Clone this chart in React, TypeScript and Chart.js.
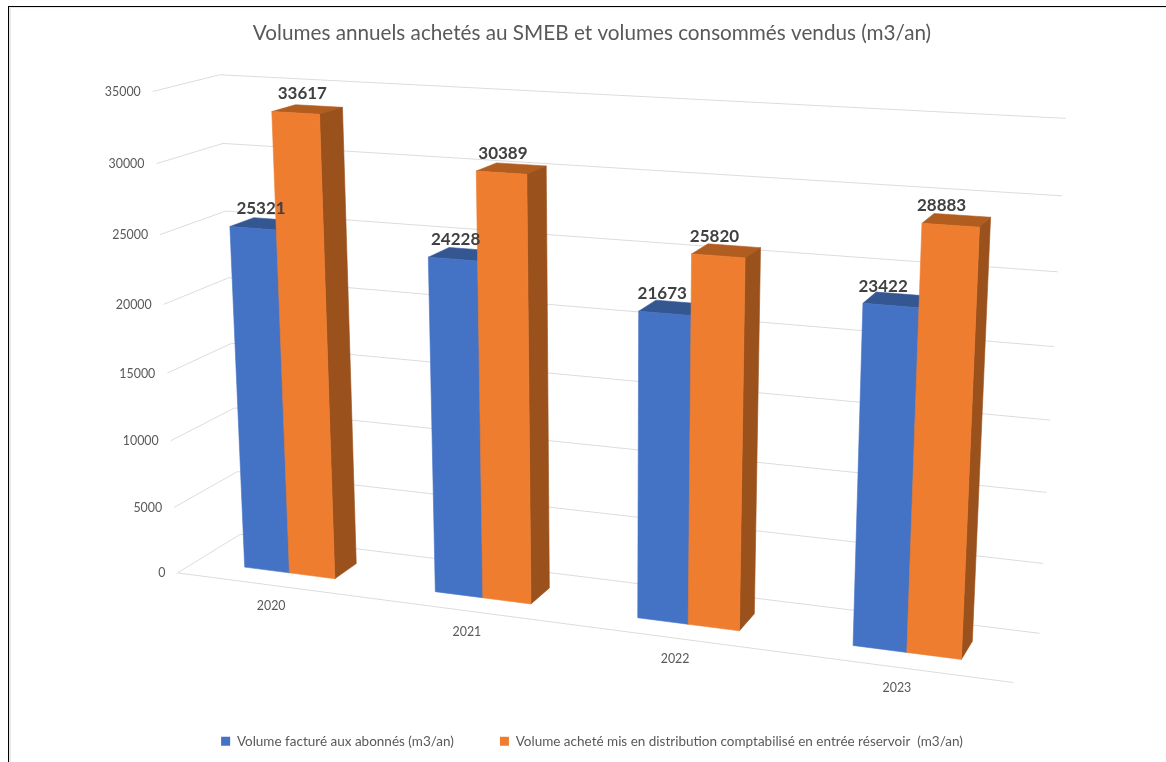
import React, { useEffect, useRef } from "react";
import { Chart, registerables } from "chart.js";
Chart.register(...registerables);

const categories = ["2020", "2021", "2022", "2023"];
const billedVolumes = [25321, 24228, 21673, 23422];
const purchasedVolumes = [33617, 30389, 25820, 28883];
const seriesNames = [
  "Volume facturé aux abonnés (m3/an)",
  "Volume acheté mis en distribution comptabilisé en entrée réservoir  (m3/an)",
];
const titleText = "Volumes annuels achetés au SMEB et volumes consommés vendus (m3/an)";
const valueMax = 35000;
const valueStep = 5000;

const font = "Lato";
const frontColors = ["#4472C4", "#EE7D30"];
const topColors = ["#345792", "#B25D20"];
const sideColors = ["#2C4C85", "#9A511C"];
const gridColor = "#DCDCDC";
const tickColor = "#595959";
const labelColor = "#404040";

// Camera matrix: maps (u along the years, v up the values, w into the depth) to canvas pixels.
const camX = [716.90908, -33.0161, 74.42674, 177.53659];
const camY = [29.55415, -486.34682, -12.15051, 572.90224];
const camW = [-0.11731, -0.05396, 0.04938, 1];
const barDepthStart = 0.3;
const barDepthEnd = 0.675;

function project(u: number, v: number, w: number): [number, number] {
  const d = camW[0] * u + camW[1] * v + camW[2] * w + camW[3];
  return [
    (camX[0] * u + camX[1] * v + camX[2] * w + camX[3]) / d,
    (camY[0] * u + camY[1] * v + camY[2] * w + camY[3]) / d,
  ];
}

function polygon(ctx: CanvasRenderingContext2D, pts: [number, number][], color: string) {
  ctx.beginPath();
  pts.forEach(([x, y], i) => (i ? ctx.lineTo(x, y) : ctx.moveTo(x, y)));
  ctx.closePath();
  ctx.fillStyle = color;
  ctx.strokeStyle = color;
  ctx.lineWidth = 0.6;
  ctx.fill();
  ctx.stroke();
}

// Draws the whole scene in perspective, taking positions from the chart's own scales and bars.
const perspectiveScene = {
  id: "perspectiveScene",
  beforeDatasetsDraw(chart: any) {
    const { ctx, chartArea: area, scales } = chart;
    const toU = (px: number) => (px - area.left) / (area.right - area.left);
    const toV = (py: number) => (area.bottom - py) / (area.bottom - area.top);
    const d0 = barDepthStart;
    const d1 = barDepthEnd;

    ctx.save();
    ctx.strokeStyle = gridColor;
    ctx.lineWidth = 1;
    ctx.fillStyle = tickColor;
    ctx.font = `12.4px ${font}`;
    ctx.textAlign = "right";
    ctx.textBaseline = "middle";
    scales.y.ticks.forEach((tick: any) => {
      const v = toV(scales.y.getPixelForValue(tick.value));
      const a = project(0, v, 0);
      const b = project(0, v, 1);
      const c = project(1, v, 1);
      ctx.beginPath();
      ctx.moveTo(a[0], a[1]);
      ctx.lineTo(b[0], b[1]);
      ctx.lineTo(c[0], c[1]);
      ctx.stroke();
      ctx.fillText(String(tick.value), a[0] - 12, a[1] + 0.5);
    });
    const f0 = project(0, 0, 0);
    const f1 = project(1, 0, 0);
    ctx.beginPath();
    ctx.moveTo(f0[0], f0[1]);
    ctx.lineTo(f1[0], f1[1]);
    ctx.stroke();
    ctx.textAlign = "center";
    categories.forEach((name, i) => {
      const p = project(toU(scales.x.getPixelForValue(i)), 0, 0);
      ctx.fillText(name, p[0], p[1] + 21);
    });

    const metas = chart.data.datasets.map((_: unknown, i: number) => chart.getDatasetMeta(i));
    categories.forEach((_, i) => {
      metas.forEach((meta: any, s: number) => {
        const bar = meta.data[i];
        const l = toU(bar.x - bar.width / 2);
        const r = toU(bar.x + bar.width / 2);
        const t = toV(bar.y);
        const b = toV(bar.base);
        polygon(ctx, [project(l, t, d0), project(r, t, d0), project(r, t, d1), project(l, t, d1)], topColors[s]);
        polygon(ctx, [project(r, b, d0), project(r, t, d0), project(r, t, d1), project(r, b, d1)], sideColors[s]);
        polygon(ctx, [project(l, b, d0), project(r, b, d0), project(r, t, d0), project(l, t, d0)], frontColors[s]);
      });
    });

    ctx.fillStyle = labelColor;
    ctx.font = `bold 17px ${font}`;
    ctx.textAlign = "center";
    ctx.textBaseline = "middle";
    metas.forEach((meta: any, s: number) => {
      meta.data.forEach((bar: any, i: number) => {
        const u = toU(bar.x);
        const p = project(u, toV(bar.y), d0);
        const value = chart.data.datasets[s].data[i];
        ctx.fillText(String(value), p[0] + 10 - 21 * u, p[1] - 19.5);
      });
    });
    ctx.restore();
    return false;
  },
};

export default function App() {
  const ref = useRef<HTMLCanvasElement>(null);
  useEffect(() => {
    const chart = new Chart(ref.current!, {
      type: "bar",
      data: {
        labels: categories,
        datasets: [
          { label: seriesNames[0], data: billedVolumes, backgroundColor: frontColors[0] },
          { label: seriesNames[1], data: purchasedVolumes, backgroundColor: frontColors[1] },
        ],
      },
      options: {
        animation: false,
        responsive: false,
        layout: { padding: { left: 18, bottom: 4 } },
        datasets: { bar: { categoryPercentage: 0.48, barPercentage: 1 } },
        scales: {
          x: { display: false },
          y: { display: false, min: 0, max: valueMax, ticks: { stepSize: valueStep } },
        },
        plugins: {
          tooltip: { enabled: false },
          title: {
            display: true,
            text: titleText,
            color: "#595959",
            font: { family: font, size: 20.7, weight: "normal" },
            padding: { top: 21, bottom: 10 },
          },
          legend: {
            position: "bottom",
            labels: {
              color: "#595959",
              font: { family: font, size: 13.5 },
              boxWidth: 9,
              boxHeight: 9,
              padding: 46,
            },
          },
        },
      },
      plugins: [perspectiveScene],
    });
    return () => chart.destroy();
  }, []);
  return (
    <div style={{ position: "absolute", left: 0, top: 0, width: 1166, height: 762, overflow: "hidden", background: "#fff" }}>
      <canvas ref={ref} width={1166} height={762} style={{ display: "block" }} />
      <div
        style={{
          position: "absolute",
          left: 8,
          top: 6,
          right: -2,
          bottom: -2,
          borderLeft: "1px solid #000",
          borderTop: "1px solid #000",
          boxShadow: "inset 2px 1px 1px #e8e8e8",
        }}
      />
    </div>
  );
}
